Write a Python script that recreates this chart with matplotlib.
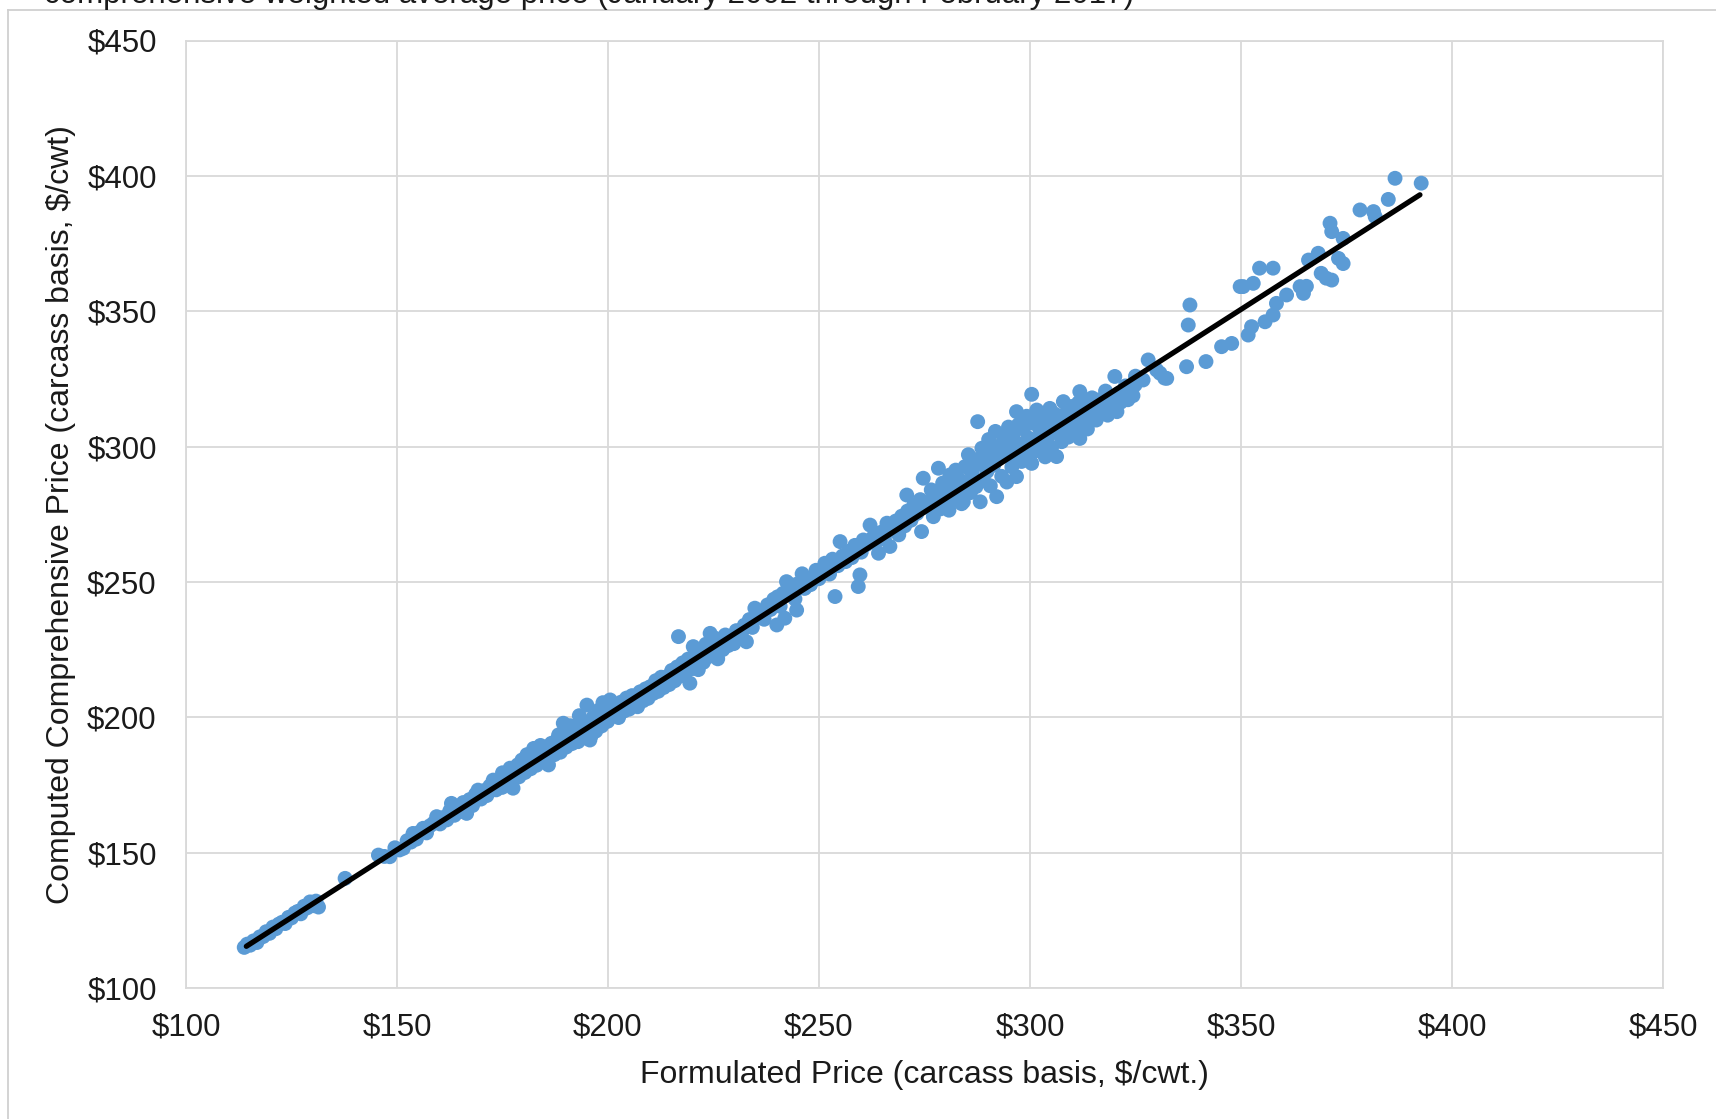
"""Formulated vs computed comprehensive price scatter with linear trend."""

import matplotlib
matplotlib.use("Agg")
import matplotlib.pyplot as plt
from matplotlib.lines import Line2D
from matplotlib.ticker import FuncFormatter, MultipleLocator

plt.rcParams["font.family"] = ["Liberation Sans", "DejaVu Sans"]

# $/cwt
low_x = [113.8, 114.5, 115.2, 116.0, 116.8, 117.5, 118.3, 119.0, 119.8, 120.6,
         121.3, 122.0, 122.8, 123.5, 124.3, 125.0, 125.8, 126.5, 127.2, 128.0,
         128.7, 129.4, 130.1, 130.8, 131.4, 137.7]
low_y = [115.0, 116.2, 115.8, 117.4, 116.8, 118.9, 119.0, 120.8, 120.2, 122.5,
         121.9, 123.6, 124.3, 123.8, 126.1, 125.9, 127.7, 128.3, 127.4, 130.2,
         129.6, 131.8, 130.4, 132.1, 129.9, 140.5]

mid_x = [145.6, 147.0, 148.3, 149.5, 150.6, 151.5, 152.4, 153.3, 153.8, 154.6,
         155.4, 156.2, 157.0, 157.8, 158.6, 159.4, 160.2, 161.0, 161.8, 162.5,
         162.9, 163.6, 164.3, 165.0, 165.7, 166.5, 167.2, 167.9, 168.6, 169.2,
         169.9, 170.6, 171.3, 172.0, 172.8, 173.5, 174.2, 174.9, 175.6, 176.3,
         176.8, 177.5, 178.2, 178.9, 179.6, 180.3, 181.0, 181.7, 182.4, 183.1,
         183.8, 184.5, 185.2, 185.9, 186.6, 187.3, 188.0, 188.7, 189.4, 190.1,
         190.8, 191.5, 192.2, 192.9, 193.6, 194.3, 195.0, 195.7, 196.4, 197.1,
         197.8, 198.5, 199.2, 199.9, 186.0, 188.3, 190.5, 192.0, 193.2, 194.8,
         196.0, 197.5, 198.8, 199.5, 191.0, 187.6, 184.0, 180.8, 178.6, 175.0]
mid_y = [149.1, 148.6, 148.5, 151.8, 151.0, 151.6, 154.4, 153.9, 157.1, 155.0,
         157.6, 159.0, 157.3, 159.9, 160.8, 163.3, 160.6, 163.0, 162.1, 165.4,
         168.2, 163.8, 166.9, 165.2, 168.5, 164.5, 169.6, 167.4, 171.5, 173.1,
         169.8, 172.9, 171.1, 174.6, 176.8, 173.2, 176.4, 174.1, 178.9, 176.2,
         181.2, 173.8, 180.9, 178.0, 184.2, 179.6, 183.8, 181.0, 188.5, 182.3,
         186.6, 184.0, 188.9, 182.4, 190.4, 186.2, 191.9, 187.1, 197.8, 189.0,
         194.6, 190.3, 196.1, 191.0, 197.9, 192.4, 204.5, 191.6, 199.8, 194.9,
         202.6, 196.8, 203.4, 198.5, 185.0, 193.5, 192.8, 193.4, 200.6, 196.0,
         193.2, 200.0, 205.4, 201.0, 196.9, 189.3, 189.6, 186.2, 182.4, 179.5]

upper_mid_x = [200.5, 201.2, 201.8, 202.5, 203.1, 203.8, 204.4, 205.0, 205.7, 206.3,
               207.0, 207.6, 208.3, 208.9, 209.5, 210.0, 210.7, 211.3, 211.9, 212.6,
               213.2, 213.9, 214.5, 215.1, 215.8, 216.4, 216.7, 217.1, 217.7, 218.3,
               219.0, 219.4, 220.0, 220.2, 220.8, 221.4, 222.0, 222.6, 223.2, 223.8,
               224.2, 224.8, 225.4, 226.0, 226.6, 227.2, 227.8, 228.5, 229.1, 229.8,
               230.4, 231.0, 231.7, 232.3, 232.8, 233.5, 234.2, 234.8]
upper_mid_y = [206.4, 201.0, 204.2, 199.9, 205.6, 202.3, 207.1, 203.0, 208.0, 205.2,
               203.9, 209.4, 206.1, 210.5, 207.0, 211.3, 208.8, 213.5, 209.6, 214.8,
               211.0, 215.0, 212.1, 217.3, 213.5, 218.6, 229.8, 215.2, 220.1, 216.4,
               221.5, 212.6, 218.0, 226.1, 222.9, 217.6, 225.2, 220.3, 227.0, 222.4,
               231.0, 224.9, 229.2, 221.6, 228.0, 225.0, 230.4, 226.5, 229.6, 227.2,
               232.0, 229.1, 231.4, 234.0, 227.9, 236.1, 233.2, 240.3]

rise_x = [235.5, 236.3, 237.0, 237.8, 238.5, 239.3, 240.0, 240.2, 240.8, 241.5,
          241.9, 242.3, 243.0, 243.6, 244.3, 244.7, 245.2, 246.0, 246.6, 247.3,
          248.0, 248.6, 249.3, 250.0, 250.7, 251.4, 251.8, 252.5, 253.2, 253.8,
          254.5, 255.0, 255.6, 256.3, 257.0, 257.8, 258.5, 259.3, 259.7, 260.0,
          260.5, 261.2, 262.1, 262.7, 263.4, 264.1, 264.8, 265.5, 266.1, 266.8,
          267.5, 268.2, 268.9, 269.6, 270.3, 270.8, 271.0, 271.8, 272.5, 273.2,
          274.0, 274.3, 274.7, 275.0]
rise_y = [237.4, 239.0, 236.2, 241.5, 239.8, 243.6, 234.1, 244.5, 241.0, 245.8,
          236.6, 250.1, 246.2, 248.9, 243.7, 239.6, 249.5, 253.0, 247.6, 250.8,
          249.0, 252.0, 254.3, 251.2, 253.5, 256.9, 255.6, 252.9, 258.4, 244.6,
          256.0, 264.9, 259.6, 257.5, 261.3, 259.0, 263.5, 248.3, 252.6, 261.0,
          265.5, 263.8, 271.0, 266.3, 264.5, 260.6, 268.4, 265.9, 271.7, 263.1,
          269.2, 272.5, 267.4, 274.3, 270.7, 282.1, 276.2, 272.8, 278.5, 275.3,
          280.4, 268.6, 288.3, 277.6]

peak_x = [276.0, 276.6, 277.1, 277.7, 278.3, 278.8, 279.3, 279.8, 280.3, 280.8,
          281.0, 281.5, 282.0, 282.4, 282.9, 283.3, 283.8, 284.2, 284.6, 285.0,
          285.4, 285.9, 286.3, 286.8, 287.2, 287.6, 288.0, 288.2, 288.6, 289.0,
          289.4, 289.8, 290.2, 290.6, 291.0, 291.4, 291.8, 292.1, 292.5, 292.9,
          293.3, 293.7, 294.1, 294.5, 294.9, 295.3, 295.7, 296.1, 296.5, 296.8,
          296.8, 297.2, 297.6, 298.0, 298.4, 298.8, 299.2, 299.6, 300.0, 300.4,
          300.4, 300.8, 301.2, 301.6, 302.0, 302.4, 302.8, 303.2, 303.6, 304.0,
          304.4, 304.7, 305.1, 305.5, 305.9, 306.3, 306.7, 307.1, 307.5, 307.9,
          308.3, 308.7, 309.1, 309.5, 309.9, 310.3, 310.7, 311.1, 311.5, 311.8,
          311.8, 312.3, 312.8, 313.2, 313.6, 314.2, 314.7, 315.2, 315.7, 316.2,
          316.7, 317.4, 317.9, 318.4, 318.9, 319.4, 320.1, 320.6, 321.0, 321.5,
          322.1, 322.6, 323.2, 323.8, 324.4, 325.2]
peak_y = [279.5, 284.0, 274.1, 281.9, 292.0, 277.0, 286.5, 280.6, 283.8, 276.5,
          289.5, 285.0, 280.2, 291.3, 283.4, 287.8, 278.9, 279.6, 292.6, 286.4,
          297.0, 283.0, 290.0, 295.2, 285.2, 309.2, 293.5, 279.6, 299.4, 287.4,
          296.2, 290.8, 302.6, 285.5, 298.0, 293.1, 305.6, 281.5, 295.6, 300.4,
          289.0, 303.8, 297.5, 286.9, 307.2, 300.0, 292.5, 304.8, 297.2, 288.9,
          312.9, 308.0, 301.0, 294.5, 306.5, 299.0, 311.2, 303.2, 296.8, 293.8,
          319.3, 308.6, 302.0, 313.5, 298.5, 306.0, 311.0, 301.2, 296.2, 309.2,
          304.0, 314.1, 299.6, 308.3, 312.0, 296.3, 305.0, 310.5, 301.8, 316.6,
          307.3, 312.8, 303.5, 309.6, 314.8, 305.8, 311.5, 308.0, 316.2, 303.0,
          320.3, 312.0, 309.2, 316.0, 306.5, 311.0, 318.0, 313.8, 309.8, 317.2,
          312.5, 315.4, 320.5, 311.6, 317.8, 314.0, 325.9, 312.9, 319.6, 316.4,
          318.5, 322.4, 317.3, 321.0, 318.8, 324.0]

top_x = [324.9, 325.0, 326.8, 328.0, 330.0, 330.8, 331.9, 332.4, 337.1, 337.5,
         337.9, 341.7, 345.4, 347.8, 349.8, 350.5, 351.7, 352.5, 352.9, 354.4,
         355.7, 357.6, 357.6, 358.4, 360.8, 364.0, 364.8, 365.5, 366.0, 368.3,
         369.0, 370.2, 371.1, 371.5, 371.5, 373.1, 374.2, 374.2, 378.2, 381.4,
         381.8, 384.9, 386.5, 392.7]
top_y = [322.8, 326.0, 324.6, 332.0, 328.3, 327.1, 325.3, 325.2, 329.5, 344.9,
         352.3, 331.4, 336.9, 338.1, 359.1, 359.1, 341.2, 344.3, 360.3, 365.9,
         346.1, 348.6, 365.9, 352.9, 356.0, 359.1, 356.6, 359.2, 368.9, 371.4,
         364.0, 362.2, 382.5, 379.4, 361.5, 369.5, 367.6, 376.9, 387.4, 386.8,
         384.9, 391.3, 399.1, 397.3]

# linear trendline end points
trend_x = [114.3, 392.4]
trend_y = [115.4, 393.0]

x_ticks = [100, 150, 200, 250, 300, 350, 400, 450]
y_ticks = [100, 150, 200, 250, 300, 350, 400, 450]

formulated = low_x + mid_x + upper_mid_x + rise_x + peak_x + top_x
computed = low_y + mid_y + upper_mid_y + rise_y + peak_y + top_y

W, H = 1716, 1119
fig = plt.figure(figsize=(W / 100, H / 100), dpi=100)
ax = fig.add_axes([186 / W, 1 - 988 / H, (1663 - 186) / W, (988 - 40.5) / H])

grid_color = "#d9d9d9"
text_color = "#1a1a1a"
tick_size = 22.5
label_size = 23

ax.scatter(formulated, computed, s=115, color="#5b9bd5", edgecolors="none", zorder=3)
ax.plot(trend_x, trend_y, color="black", lw=3.8, solid_capstyle="round", zorder=4)

ax.set_xlim(x_ticks[0], x_ticks[-1])
ax.set_ylim(y_ticks[0], y_ticks[-1])
ax.xaxis.set_major_locator(MultipleLocator(50))
ax.yaxis.set_major_locator(MultipleLocator(50))
money = FuncFormatter(lambda v, _: f"${v:.0f}")
ax.xaxis.set_major_formatter(money)
ax.yaxis.set_major_formatter(money)
ax.grid(True, color=grid_color, lw=1.3, zorder=0)
for side in ax.spines.values():
    side.set_color(grid_color)
    side.set_linewidth(1.3)
ax.tick_params(length=0, labelsize=tick_size, colors=text_color)
ax.tick_params(axis="x", pad=18)
ax.tick_params(axis="y", pad=21)

ax.set_xlabel("Formulated Price (carcass basis, $/cwt.)", fontsize=label_size,
              color=text_color, labelpad=12)
ax.set_ylabel("Computed Comprehensive Price (carcass basis, $/cwt)", fontsize=label_size,
              color=text_color, labelpad=8)

# caption line above the chart frame, cut off by the top edge as in the source
fig.text(44 / W, 1 - 3 / H,
         "comprehensive weighted average price (January 2002 through February 2017)",
         fontsize=22.5, va="baseline", ha="left", color=text_color)

# outer chart frame (top and left edges visible)
fig.add_artist(Line2D([8 / W, 1.0], [1 - 10 / H, 1 - 10 / H],
                      transform=fig.transFigure, color="#d0d0d0", lw=1.3))
fig.add_artist(Line2D([8 / W, 8 / W], [0.0, 1 - 10 / H],
                      transform=fig.transFigure, color="#d0d0d0", lw=1.3))

fig.savefig("out.png", dpi=100)
plt.close(fig)
